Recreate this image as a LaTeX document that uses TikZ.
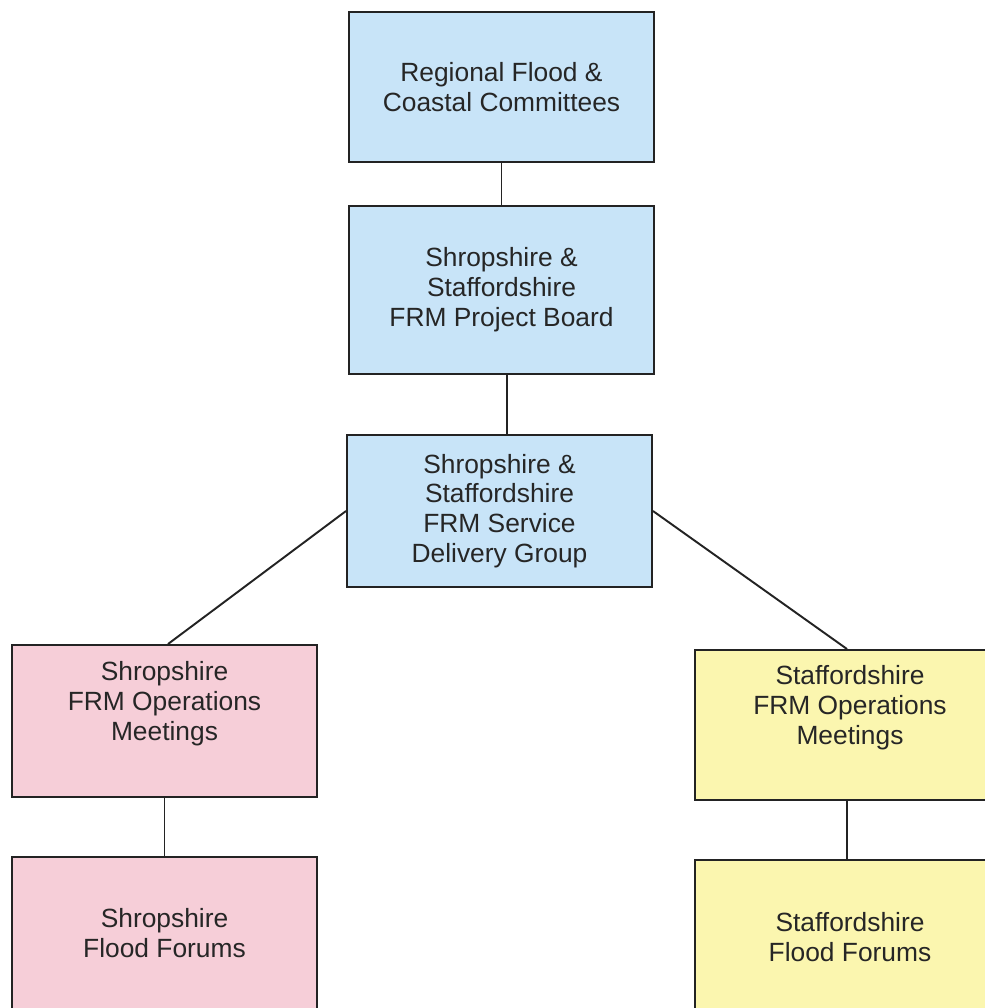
\documentclass[tikz,border=0pt]{standalone}
\usepackage{fontspec}
\setmainfont{Liberation Sans}
\definecolor{boardblue}{RGB}{200,228,248}
\definecolor{shroppink}{RGB}{246,206,216}
\definecolor{staffyellow}{RGB}{251,246,175}
\definecolor{edgegrey}{RGB}{35,35,35}
\begin{document}
\begin{tikzpicture}[
    every node/.append style={draw=edgegrey,line width=1.1pt,align=center,
      text=black!85,font=\fontsize{15}{17}\selectfont,inner sep=0pt},
    bluebox/.style={fill=boardblue,minimum width=6.1cm},
    pinkbox/.style={fill=shroppink,minimum width=6.1cm},
    yellowbox/.style={fill=staffyellow,minimum width=6.2cm},
    raised/.style={text depth=0.8cm},
    link/.style={draw=edgegrey,line width=1.1pt}]
    \useasboundingbox (0,0) rectangle (19.7,-20.16);
    \clip (0,0) rectangle (19.7,-20.16);
    \node[bluebox,minimum height=3cm] (rfcc) at (10.03,-1.74)
      {Regional Flood \&\\Coastal Committees};
    \node[bluebox,minimum height=3.36cm] (board) at (10.03,-5.8)
      {Shropshire \&\\Staffordshire\\FRM Project Board};
    \node[bluebox,minimum height=3.04cm] (sdg) at (9.99,-10.22)
      {Shropshire \&\\Staffordshire\\FRM Service\\Delivery Group};
    \node[pinkbox,raised,minimum height=3.04cm] (shropops) at (3.29,-14.42)
      {Shropshire\\FRM Operations\\Meetings};
    \node[pinkbox,minimum height=3.06cm] (shropforum) at (3.29,-18.67)
      {Shropshire\\Flood Forums};
    \node[yellowbox,raised,minimum height=3cm] (staffops) at (17.0,-14.5)
      {Staffordshire\\FRM Operations\\Meetings};
    \node[yellowbox,minimum height=3.08cm] (staffforum) at (17.0,-18.74)
      {Staffordshire\\Flood Forums};
    \draw[link] (rfcc) -- (board);
    \draw[link] ([xshift=0.11cm]board.south) -- ([xshift=0.15cm]sdg.north);
    \draw[link] (sdg.west) -- ([xshift=0.07cm]shropops.north);
    \draw[link] (sdg.east) -- ([xshift=-0.06cm]staffops.north);
    \draw[link] (shropops) -- (shropforum);
    \draw[link] ([xshift=-0.06cm]staffops.south) -- ([xshift=-0.06cm]staffforum.north);
\end{tikzpicture}
\end{document}
